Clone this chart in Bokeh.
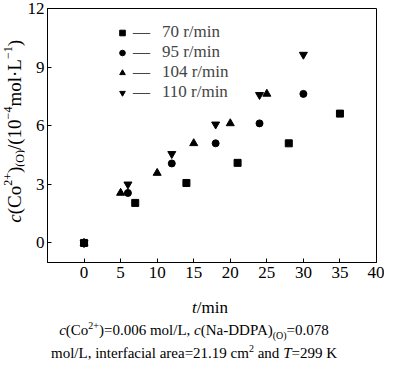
from bokeh.plotting import figure
from bokeh.models import Legend, LegendItem, FixedTicker, Range1d, Div
from bokeh.layouts import row, column
from bokeh.embed import file_html
from bokeh.resources import INLINE

# ---- data ----
t_70 = [0, 7, 14, 21, 28, 35]
c_70 = [0, 2.05, 3.07, 4.1, 5.1, 6.62]
t_95 = [0, 6, 12, 18, 24, 30]
c_95 = [0, 2.56, 4.07, 5.1, 6.12, 7.63]
t_104 = [0, 5, 10, 15, 20, 25]
c_104 = [0, 2.56, 3.58, 5.1, 6.12, 7.63]
t_110 = [0, 6, 12, 18, 24, 30]
c_110 = [0, 3.0, 4.56, 6.07, 7.58, 9.64]
series_labels = ["70 r/min", "95 r/min", "104 r/min", "110 r/min"]
x_ticks = [0, 5, 10, 15, 20, 25, 30, 35, 40]
y_ticks = [0, 3, 6, 9, 12]

FONT = "Liberation Serif"
W, H = 360, 286
BL, BR, BT, BB = 20, 8, 8, 24
FW, FH = W - BL - BR, H - BT - BB

p = figure(width=W, height=H, output_backend="svg", toolbar_location=None,
           x_range=Range1d(-5, 40), y_range=Range1d(-1, 12),
           min_border_left=BL, min_border_right=BR, min_border_top=BT, min_border_bottom=BB)
p.styles = {"font-family": "'Liberation Serif', serif"}
p.stylesheets = [":host { font-family: 'Liberation Serif', serif !important; } "
                 "text { font-family: 'Liberation Serif', serif !important; }"]
p.grid.visible = False
p.outline_line_color = "black"
p.outline_line_width = 1
p.background_fill_color = "white"
p.border_fill_color = "white"

for ax, ticks in ((p.xaxis[0], x_ticks), (p.yaxis[0], y_ticks)):
    ax.ticker = FixedTicker(ticks=ticks)
    ax.major_tick_in = 4
    ax.major_tick_out = 0
    ax.minor_tick_in = 0
    ax.minor_tick_out = 0
    ax.axis_line_color = "black"
    ax.major_tick_line_color = "black"
    ax.major_label_text_font = FONT
    ax.major_label_text_font_style = "normal"
    ax.major_label_text_font_size = "17px"
    ax.major_label_text_color = "black"
p.xaxis.major_label_standoff = 4
p.yaxis.major_label_standoff = 3

r70 = p.scatter(t_70, c_70, marker="square", size=7, color="black")
r95 = p.scatter(t_95, c_95, marker="circle", size=7, color="black")
r104 = p.scatter(t_104, c_104, marker="triangle", size=8, color="black")
r110 = p.scatter(t_110, c_110, marker="inverted_triangle", size=8, color="black")

legend = Legend(items=[LegendItem(label="\u2014\u2002\u2009" + lab, renderers=[r])
                       for lab, r in zip(series_labels, [r70, r95, r104, r110])],
                location=(68, FH - 94), padding=0, spacing=-3, margin=0,
                glyph_width=14, glyph_height=17, label_height=17, label_standoff=4,
                label_text_font=FONT, label_text_font_style="normal",
                label_text_font_size="17px", label_text_line_height=1.0,
                border_line_color=None, background_fill_alpha=0)
p.add_layout(legend)

SUP = "font-size:12px;line-height:0;"
ylabel_html = (
    f'<div style="width:24px;height:{BT + FH}px;display:flex;align-items:center;'
    f'justify-content:flex-end;">'
    f'<span style="writing-mode:vertical-rl;transform:rotate(180deg);'
    f"font-family:'{FONT}';font-size:19px;white-space:nowrap;line-height:1;color:black;\">"
    f'<i>c</i>(Co<sup style="{SUP}">2+</sup>)<sub style="{SUP}">(O)</sub>/(10'
    f'<sup style="{SUP}">\u22124</sup>mol\u00b7L<sup style="{SUP}">\u22121</sup>)</span></div>'
)
ydiv = Div(text=ylabel_html, width=24, height=H, margin=0)

CSUP = "font-size:10px;line-height:0;"
cap_html = (
    f"<div style=\"font-family:'{FONT}';color:black;line-height:23px;white-space:nowrap;"
    f"width:384px;padding-top:10px;\">"
    f'<div style="text-align:center;padding-left:36px;font-size:17px;"><i>t</i>/min</div>'
    f'<div style="text-align:center;padding-left:4px;font-size:15px;">'
    f'<i>c</i>(Co<sup style="{CSUP}">2+</sup>)=0.006 mol/L, <i>c</i>(Na-DDPA)'
    f'<sub style="{CSUP}">(O)</sub>=0.078</div>'
    f'<div style="text-align:center;padding-left:4px;font-size:15px;">'
    f'mol/L, interfacial area=21.19 cm<sup style="{CSUP}">2</sup> and <i>T</i>=299 K</div>'
    f'</div>'
)
capdiv = Div(text=cap_html, width=384, height=71, margin=0)

layout = column(row(ydiv, p, spacing=0), capdiv, spacing=0)

open("out.html", "w").write(file_html(layout, INLINE))
